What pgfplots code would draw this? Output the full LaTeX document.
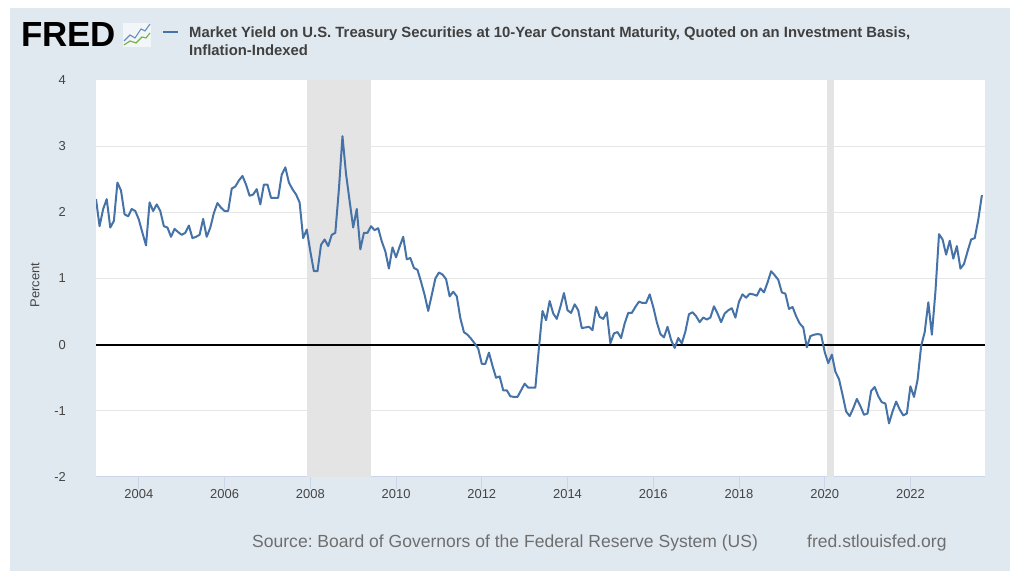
\documentclass[border=0pt]{standalone}
\usepackage{fontspec}
\setmainfont{Liberation Sans}
\usepackage{pgfplots}
\pgfplotsset{compat=1.18}
\frenchspacing
\definecolor{panelc}{HTML}{E1E9F0}
\definecolor{linec}{HTML}{4572A7}
\definecolor{recc}{HTML}{E4E4E4}
\definecolor{gridc}{HTML}{E6E6E6}
\definecolor{tickc}{HTML}{CCD6EB}
\definecolor{tickt}{HTML}{444444}
\definecolor{titlec}{HTML}{404040}
\definecolor{srcc}{HTML}{6E6E6E}
\definecolor{icong}{HTML}{6DB33F}
\begin{document}
\frenchspacing
\begin{tikzpicture}[x=1bp,y=1bp]
\fill[white] (0,0) rectangle (1018,578);
\useasboundingbox (0,0) rectangle (1018,578);
\fill[panelc] (10,7) rectangle (1010,570);
% logo
\node[anchor=base west, inner sep=0pt, font=\fontsize{35}{35}\selectfont\bfseries] at (21,531.3) {FRED};
\fill[white!60!panelc] (123,531) rectangle (151,555);
\draw[linec!80, line width=1.1bp] (124,537) -- (130,543) -- (135,540) -- (141,549) -- (145,547) -- (150,554);
\draw[icong, line width=1.1bp] (124,533) -- (130,537) -- (136,535) -- (142,541) -- (146,540) -- (150,545);
% legend + title
\draw[linec, line width=2bp] (163,546) -- (178,546);
\node[anchor=base west, inner sep=0pt, text=titlec, font=\fontsize{14.9}{14.9}\selectfont\bfseries] at (189,540.5) {Market Yield on U.S. Treasury Securities at 10-Year Constant Maturity, Quoted on an Investment Basis,};
\node[anchor=base west, inner sep=0pt, text=titlec, font=\fontsize{14.9}{14.9}\selectfont\bfseries] at (189,522) {Inflation-Indexed};
% y label
\node[rotate=90, inner sep=0pt, text=tickt, font=\fontsize{13}{13}\selectfont] at (35,293) {Percent};
% source
\node[anchor=base west, inner sep=0pt, text=srcc, font=\fontsize{17.6}{17.6}\selectfont] at (252,30.7) {Source: Board of Governors of the Federal Reserve System (US)};
\node[anchor=base west, inner sep=0pt, text=srcc, font=\fontsize{17.6}{17.6}\selectfont] at (807,30.7) {fred.stlouisfed.org};
\begin{axis}[
  at={(96bp,101bp)}, anchor=south west, scale only axis,
  width=889bp, height=397bp,
  xmin=2003, xmax=2023.74, ymin=-2, ymax=4,
  xtick={2004,2006,...,2022},
  xticklabels={2004,2006,2008,2010,2012,2014,2016,2018,2020,2022},
  ytick={-2,-1,0,1,2,3,4},
  yticklabels={-2,-1,0,1,2,3,4},
  ymajorgrids, major grid style={draw=gridc, line width=1bp},
  axis x line*=bottom, axis y line*=left,
  x axis line style={draw=tickc, line width=1bp},
  y axis line style={draw=none},
  tick align=outside, major tick length=12bp,
  xtick style={draw=tickc, line width=1bp},
  ytick style={draw=none},
  ticklabel style={font=\fontsize{13}{13}\selectfont, text=tickt},
  yticklabel style={inner sep=0pt, anchor=east, xshift=-18bp},
  xticklabel style={inner sep=0pt, anchor=north},
  axis background/.style={fill=white},
]
\addplot[draw=none, fill=recc, forget plot] coordinates {(2007.917,-2) (2009.417,-2) (2009.417,4) (2007.917,4)} -- cycle;
\addplot[draw=none, fill=recc, forget plot] coordinates {(2020.06,-2) (2020.22,-2) (2020.22,4) (2020.06,4)} -- cycle;
\addplot[black, line width=2bp, forget plot] coordinates {(2003,0) (2023.74,0)};
\addplot[linec, line width=2bp, line join=round] coordinates {
(2003.000,2.20) (2003.083,1.79) (2003.167,2.05) (2003.250,2.20) (2003.333,1.77) (2003.417,1.87) (2003.500,2.45) (2003.583,2.33) (2003.667,1.97) (2003.750,1.94) (2003.833,2.05) (2003.917,2.02)
(2004.000,1.89) (2004.083,1.69) (2004.167,1.50) (2004.250,2.15) (2004.333,2.02) (2004.417,2.12) (2004.500,2.02) (2004.583,1.79) (2004.667,1.77) (2004.750,1.63) (2004.833,1.75) (2004.917,1.70)
(2005.000,1.66) (2005.083,1.69) (2005.167,1.80) (2005.250,1.61) (2005.333,1.63) (2005.417,1.66) (2005.500,1.90) (2005.583,1.63) (2005.667,1.77) (2005.750,1.99) (2005.833,2.14) (2005.917,2.07)
(2006.000,2.02) (2006.083,2.02) (2006.167,2.36) (2006.250,2.39) (2006.333,2.48) (2006.417,2.55) (2006.500,2.42) (2006.583,2.25) (2006.667,2.27) (2006.750,2.35) (2006.833,2.12) (2006.917,2.42)
(2007.000,2.42) (2007.083,2.22) (2007.167,2.22) (2007.250,2.22) (2007.333,2.57) (2007.417,2.68) (2007.500,2.45) (2007.583,2.35) (2007.667,2.27) (2007.750,2.15) (2007.833,1.61) (2007.917,1.74)
(2008.000,1.41) (2008.083,1.11) (2008.167,1.11) (2008.250,1.51) (2008.333,1.59) (2008.417,1.49) (2008.500,1.66) (2008.583,1.69) (2008.667,2.35) (2008.750,3.15) (2008.833,2.58) (2008.917,2.17)
(2009.000,1.77) (2009.083,2.05) (2009.167,1.44) (2009.250,1.69) (2009.333,1.69) (2009.417,1.79) (2009.500,1.73) (2009.583,1.76) (2009.667,1.56) (2009.750,1.41) (2009.833,1.15) (2009.917,1.47)
(2010.000,1.32) (2010.083,1.48) (2010.167,1.63) (2010.250,1.29) (2010.333,1.31) (2010.417,1.16) (2010.500,1.13) (2010.583,0.95) (2010.667,0.75) (2010.750,0.51) (2010.833,0.75) (2010.917,1.00)
(2011.000,1.09) (2011.083,1.06) (2011.167,0.99) (2011.250,0.73) (2011.333,0.80) (2011.417,0.73) (2011.500,0.40) (2011.583,0.19) (2011.667,0.15) (2011.750,0.09) (2011.833,0.02) (2011.917,-0.06)
(2012.000,-0.29) (2012.083,-0.29) (2012.167,-0.12) (2012.250,-0.32) (2012.333,-0.50) (2012.417,-0.48) (2012.500,-0.69) (2012.583,-0.69) (2012.667,-0.78) (2012.750,-0.79) (2012.833,-0.79) (2012.917,-0.69)
(2013.000,-0.59) (2013.083,-0.65) (2013.167,-0.65) (2013.250,-0.65) (2013.333,-0.05) (2013.417,0.51) (2013.500,0.37) (2013.583,0.66) (2013.667,0.47) (2013.750,0.39) (2013.833,0.57) (2013.917,0.78)
(2014.000,0.52) (2014.083,0.48) (2014.167,0.61) (2014.250,0.52) (2014.333,0.25) (2014.417,0.26) (2014.500,0.27) (2014.583,0.22) (2014.667,0.57) (2014.750,0.42) (2014.833,0.39) (2014.917,0.49)
(2015.000,0.02) (2015.083,0.17) (2015.167,0.19) (2015.250,0.10) (2015.333,0.32) (2015.417,0.48) (2015.500,0.48) (2015.583,0.57) (2015.667,0.65) (2015.750,0.63) (2015.833,0.63) (2015.917,0.76)
(2016.000,0.57) (2016.083,0.34) (2016.167,0.16) (2016.250,0.11) (2016.333,0.27) (2016.417,0.07) (2016.500,-0.05) (2016.583,0.10) (2016.667,0.02) (2016.750,0.20) (2016.833,0.46) (2016.917,0.49)
(2017.000,0.43) (2017.083,0.34) (2017.167,0.41) (2017.250,0.38) (2017.333,0.41) (2017.417,0.58) (2017.500,0.47) (2017.583,0.34) (2017.667,0.47) (2017.750,0.52) (2017.833,0.55) (2017.917,0.41)
(2018.000,0.65) (2018.083,0.76) (2018.167,0.71) (2018.250,0.77) (2018.333,0.76) (2018.417,0.74) (2018.500,0.85) (2018.583,0.79) (2018.667,0.94) (2018.750,1.11) (2018.833,1.05) (2018.917,0.98)
(2019.000,0.79) (2019.083,0.77) (2019.167,0.54) (2019.250,0.57) (2019.333,0.43) (2019.417,0.32) (2019.500,0.26) (2019.583,-0.04) (2019.667,0.13) (2019.750,0.15) (2019.833,0.16) (2019.917,0.15)
(2020.000,-0.11) (2020.083,-0.28) (2020.167,-0.15) (2020.250,-0.41) (2020.333,-0.52) (2020.417,-0.76) (2020.500,-1.01) (2020.583,-1.08) (2020.667,-0.96) (2020.750,-0.82) (2020.833,-0.93) (2020.917,-1.06)
(2021.000,-1.04) (2021.083,-0.70) (2021.167,-0.64) (2021.250,-0.78) (2021.333,-0.87) (2021.417,-0.89) (2021.500,-1.19) (2021.583,-1.01) (2021.667,-0.86) (2021.750,-0.98) (2021.833,-1.07) (2021.917,-1.04)
(2022.000,-0.63) (2022.083,-0.79) (2022.167,-0.53) (2022.250,-0.02) (2022.333,0.19) (2022.417,0.64) (2022.500,0.15) (2022.583,0.80) (2022.667,1.67) (2022.750,1.59) (2022.833,1.36) (2022.917,1.57)
(2023.000,1.30) (2023.083,1.49) (2023.167,1.15) (2023.250,1.22) (2023.333,1.41) (2023.417,1.59) (2023.500,1.61) (2023.583,1.89) (2023.667,2.26)
};
\end{axis}
\end{tikzpicture}
\end{document}
